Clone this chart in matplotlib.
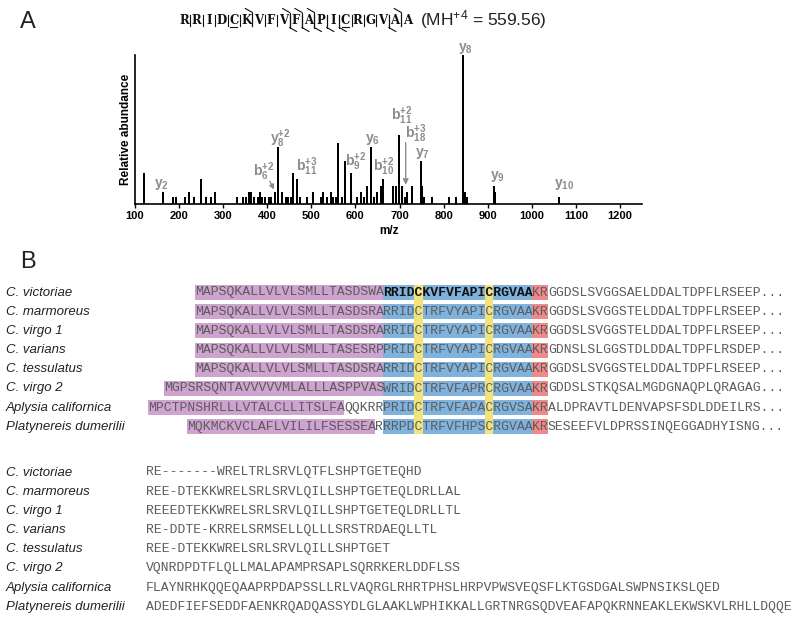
import matplotlib
matplotlib.use("Agg")
import matplotlib.pyplot as plt
from matplotlib.patches import Rectangle

plt.rcParams['mathtext.fontset'] = 'custom'
plt.rcParams['mathtext.rm'] = 'Liberation Sans'
plt.rcParams['mathtext.bf'] = 'Liberation Sans:bold'
plt.rcParams['mathtext.it'] = 'Liberation Sans:italic'

# ── A: MS/MS spektrum ────────────────────────────────────────────────
mz = [120, 164, 186, 193, 213, 222, 234, 250, 260, 273, 282, 331, 345, 352,
      359, 363, 370, 380, 384, 389, 395, 403, 409, 417, 424, 433, 443, 448,
      453, 458, 467, 475, 490, 503, 522, 527, 536, 544, 549, 555, 561, 570,
      576, 589, 604, 612, 620, 626, 636, 642, 650, 657, 663, 686, 693, 698,
      705, 712, 718, 728, 748, 750, 755, 774, 812, 827, 845, 848, 852, 914,
      917, 1062]
intensity = [21, 8, 4.5, 4.5, 4.5, 8, 4.5, 17, 4.5, 4.5, 8, 4.5, 4.5, 4.5,
             8, 8, 4.5, 4.5, 8, 4.5, 4.5, 4.5, 4.5, 8, 38, 8, 4.5, 4.5,
             4.5, 21, 17, 4.5, 4.5, 8, 4.5, 8, 4.5, 8, 4.5, 4.5, 41, 4.5,
             29, 21, 4.5, 8, 4.5, 12, 38, 4.5, 8, 12, 17, 12, 12, 46,
             12, 4.5, 8, 12, 29, 12, 4.5, 4.5, 4.5, 4.5, 100, 8, 4.5, 12,
             8, 4.5]

ion_text = [r'$\mathbf{y_{2}}$', r'$\mathbf{y_{8}^{+2}}$', r'$\mathbf{b_{6}^{+2}}$',
            r'$\mathbf{b_{11}^{+3}}$', r'$\mathbf{b_{9}^{+2}}$', r'$\mathbf{y_{6}}$',
            r'$\mathbf{b_{10}^{+2}}$', r'$\mathbf{b_{11}^{+2}}$', r'$\mathbf{b_{18}^{+3}}$',
            r'$\mathbf{y_{7}}$', r'$\mathbf{y_{8}}$', r'$\mathbf{y_{9}}$', r'$\mathbf{y_{10}}$']
ion_mz = [161, 430, 392, 490, 600, 638, 664, 706, 736, 752, 850, 922, 1073]
ion_y = [13.4, 44, 21.7, 25, 28.4, 43, 25, 59, 47.4, 34, 104.5, 18.3, 13.4]

peptide = list("RRIDCKVFVFAPICRGVAA")
underlined = [4, 13]
b_marks = [5, 8, 9, 10, 17]        # kavelj zgoraj, za ostankom
y_marks = [9, 10, 11, 12, 13, 17]  # kavelj spodaj, pred ostankom

# ── B: poravnava ─────────────────────────────────────────────────────
species = ["C. victoriae", "C. marmoreus", "C. virgo 1", "C. varians",
           "C. tessulatus", "C. virgo 2", "Aplysia californica",
           "Platynereis dumerilii"]
signal = ["MAPSQKALLVLVLSMLLTASDSWA", "MAPSQKALLVLVLSMLLTASDSRA",
          "MAPSQKALLVLVLSMLLTASDSRA", "MAPSQKALLVLVLSMLLTASESRP",
          "MAPSQKALLVLVLSMLLTASDSRA", "MGPSRSQNTAVVVVVMLALLLASPPVAS",
          "MPCTPNSHRLLLVTALCLLITSLFA", "MQKMCKVCLAFLVILILFSESSEA"]
spacer = ["", "", "", "", "", "", "QQKRR", "R"]
core = ["RRIDCKVFVFAPICRGVAA", "RRIDCTRFVYAPICRGVAA", "RRIDCTRFVYAPICRGVAA",
        "PRIDCTRFVYAPICRGVAA", "RRIDCTRFVYAPICRGVAA", "WRIDCTRFVFAPRCRGVAA",
        "PRIDCTRFVFAPACRGVSA", "RRPDCTRFVFHPSCRGVAA"]
cleave = ["KR"] * 8
tail = ["GGDSLSVGGSAELDDALTDPFLRSEEP...", "GGDSLSVGGSTELDDALTDPFLRSEEP...",
        "GGDSLSVGGSTELDDALTDPFLRSEEP...", "GDNSLSLGGSTDLDDALTDPFLRSDEP...",
        "GGDSLSVGGSTELDDALTDPFLRSEEP...", "GDDSLSTKQSALMGDGNAQPLQRAGAG...",
        "ALDPRAVTLDENVAPSFSDLDDEILRS...", "SESEEFVLDPRSSINQEGGADHYISNG..."]
cys_cols = [4, 13]
block2 = ["RE-------WRELTRLSRVLQTFLSHPTGETEQHD",
          "REE-DTEKKWRELSRLSRVLQILLSHPTGETEQLDRLLAL",
          "REEEDTEKKWRELSRLSRVLQILLSHPTGETEQLDRLLTL",
          "RE-DDTE-KRRELSRMSELLQLLLSRSTRDAEQLLTL",
          "REE-DTEKKWRELSRLSRVLQILLSHPTGET",
          "VQNRDPDTFLQLLMALAPAMPRSAPLSQRRKERLDDFLSS",
          "FLAYNRHKQQEQAAPRPDAPSSLLRLVAQRGLRHRTPHSLHRPVPWSVEQSFLKTGSDGALSWPNSIKSLQED",
          "ADEDFIEFSEDDFAENKRQADQASSYDLGLAAKLWPHIKKALLGRTNRGSQDVEAFAPQKRNNEAKLEKWSKVLRHLLDQQE"]

C_PURPLE = "#cfa3cf"
C_BLUE = "#7fb3de"
C_YELLOW = "#f2e47a"
C_RED = "#f08a8a"
C_SEQ = "#5c5c5c"
C_ION = "#8c8c8c"

fig = plt.figure(figsize=(8, 6.25), dpi=100)
ov = fig.add_axes([0, 0, 1, 1], zorder=0)
ov.set_xlim(0, 800)
ov.set_ylim(625, 0)
ov.axis("off")

# ── spektrum ─────────────────────────────────────────────────────────
ax = fig.add_axes([135 / 800, 1 - 204 / 625, (642 - 135) / 800, (204 - 55) / 625], zorder=2)
ax.patch.set_alpha(0)
ax.bar(mz, intensity, width=4.5, color="black")
ax.set_xlim(100, 1250)
ax.set_ylim(0, 100)
ax.spines["top"].set_visible(False)
ax.spines["right"].set_visible(False)
ax.spines["left"].set_linewidth(1.2)
ax.spines["bottom"].set_linewidth(1.2)
ax.set_yticks([])
ax.set_xticks(range(100, 1201, 100))
ax.tick_params(axis="x", length=3, width=1, pad=2, labelsize=8)
for lab in ax.get_xticklabels():
    lab.set_fontweight("bold")
    lab.set_family("Liberation Sans")
ax.set_xlabel("m/z", fontsize=8.5, fontweight="bold", family="Liberation Sans", labelpad=3)
ax.set_ylabel("Relative abundance", fontsize=8.5, fontweight="bold", family="Liberation Sans", labelpad=2)

for t, x, y in zip(ion_text, ion_mz, ion_y):
    ax.text(x, y, t, ha="center", va="center", fontsize=10, color=C_ION, clip_on=False)
ax.annotate("", xy=(418, 8), xytext=(403, 17),
            arrowprops=dict(arrowstyle="-|>", color=C_ION, lw=1, mutation_scale=7))
ax.annotate("", xy=(714, 11), xytext=(714, 43),
            arrowprops=dict(arrowstyle="-|>", color=C_ION, lw=1, mutation_scale=8))

# ── oznake panelov in glava A ────────────────────────────────────────
ov.text(20, 22, "A", fontsize=17, family="Liberation Sans", color="#222222", va="center")
ov.text(20, 262, "B", fontsize=17, family="Liberation Sans", color="#222222", va="center")

px0, pitch, ty = 178, 12.4, 20
for i, aa in enumerate(peptide):
    cx = px0 + i * pitch + pitch / 2
    ov.text(cx, ty, aa, ha="center", va="center", fontsize=8.5, fontweight="bold",
            family="DejaVu Serif", color="#111111")
    if i in underlined:
        ov.plot([cx - 3.5, cx + 3.5], [ty + 6.5, ty + 6.5], color="#111111", lw=0.8)
    if i < len(peptide) - 1:
        sx = px0 + (i + 1) * pitch
        ov.plot([sx, sx], [ty - 5.5, ty + 5.5], color="#111111", lw=0.8)
for i in b_marks:
    sx = px0 + (i + 1) * pitch
    ov.plot([sx, sx], [ty - 7.5, ty + 5.5], color="#111111", lw=0.8)
    ov.plot([sx - 7, sx], [ty - 11.5, ty - 7.5], color="#111111", lw=0.8)
for i in y_marks:
    sx = px0 + i * pitch
    ov.plot([sx, sx], [ty - 5.5, ty + 7.5], color="#111111", lw=0.8)
    ov.plot([sx, sx + 7], [ty + 7.5, ty + 11.5], color="#111111", lw=0.8)
ov.text(px0 + 19 * pitch + 6, ty, r"(MH$^{+4}$ = 559.56)", ha="left", va="center",
        fontsize=12.5, family="Liberation Sans", color="#222222")

# ── poravnava, prvi blok ─────────────────────────────────────────────
x0, cw, fs = 195, 7.84, 9.41
row_y = [292.5 + 19.2 * i for i in range(8)]
bh = 15

for r in range(8):
    y = row_y[r]
    ov.text(6, y, species[r], ha="left", va="center", fontsize=9.5, style="italic",
            family="Liberation Sans", color="#222222")
    col = 24 - len(signal[r]) - len(spacer[r])
    segs = [(signal[r], C_PURPLE), (spacer[r], None), (core[r], C_BLUE),
            (cleave[r], C_RED), (tail[r], None)]
    for k, (s, bg) in enumerate(segs):
        if not s:
            continue
        xs = x0 + col * cw
        if bg:
            ov.add_patch(Rectangle((xs, y - bh / 2), len(s) * cw, bh, facecolor=bg,
                                   edgecolor="none", zorder=1))
        bold = (r == 0 and k == 2)
        ov.text(xs, y, s, ha="left", va="center", fontsize=fs, family="Liberation Mono",
                fontweight="bold" if bold else "normal",
                color="#111111" if bold else C_SEQ, zorder=3)
        col += len(s)

for c in cys_cols:
    xs = x0 + (24 + c) * cw
    ov.add_patch(Rectangle((xs - 0.5, row_y[0] - bh / 2), cw + 1,
                           row_y[-1] - row_y[0] + bh, facecolor=C_YELLOW,
                           edgecolor="none", zorder=2))

# ── poravnava, drugi blok ────────────────────────────────────────────
x1 = 146
row_y2 = [472.5 + 19.2 * i for i in range(8)]
for r in range(8):
    y = row_y2[r]
    ov.text(6, y, species[r], ha="left", va="center", fontsize=9.5, style="italic",
            family="Liberation Sans", color="#222222")
    ov.text(x1, y, block2[r], ha="left", va="center", fontsize=fs,
            family="Liberation Mono", color=C_SEQ)

fig.savefig("out.png", dpi=100)
